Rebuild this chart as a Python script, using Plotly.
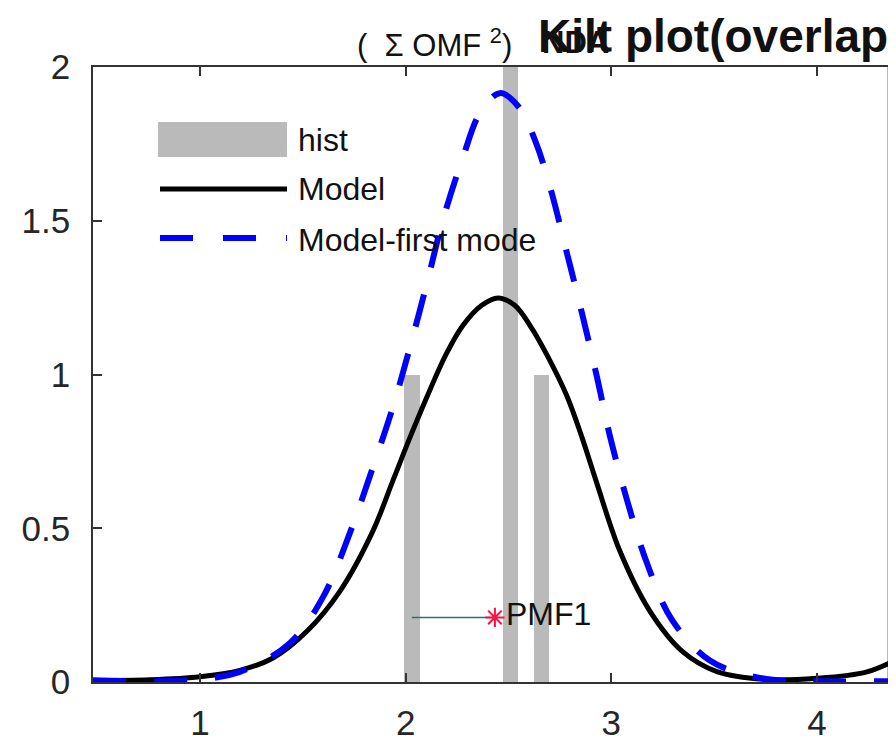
import plotly.graph_objects as go

# ---------------- data ----------------
hist_x = [2.03, 2.51, 2.66, 4.38]
hist_y = [1.0, 2.0, 1.0, 2.0]

model_x = [0.48, 0.757, 1.0, 1.194, 1.355, 1.52, 1.68, 1.84, 1.938, 2.03, 2.118, 2.2,
           2.279, 2.37, 2.449, 2.53, 2.604, 2.69, 2.784, 2.86, 2.93, 3.042, 3.188, 3.348,
           3.513, 3.756, 3.999, 4.243, 4.384]
model_y = [0.004, 0.007, 0.017, 0.038, 0.078, 0.165, 0.295, 0.49, 0.655, 0.81, 0.95, 1.07,
           1.16, 1.225, 1.249, 1.225, 1.16, 1.06, 0.93, 0.79, 0.645, 0.425, 0.23, 0.098,
           0.034, 0.008, 0.012, 0.033, 0.072]

first_x = [0.48, 0.951, 1.194, 1.438, 1.598, 1.729, 1.841, 1.938, 2.021, 2.104, 2.181,
           2.279, 2.361, 2.458, 2.55, 2.63, 2.702, 2.784, 2.857, 2.93, 2.993, 3.076, 3.173,
           3.295, 3.479, 3.722, 3.999, 4.384]
first_y = [0.006, 0.006, 0.033, 0.127, 0.276, 0.485, 0.699, 0.894, 1.089, 1.298, 1.502,
           1.707, 1.85, 1.915, 1.87, 1.76, 1.61, 1.395, 1.2, 0.992, 0.8, 0.592, 0.387,
           0.202, 0.07, 0.013, 0.003, 0.003]

pmf_x = [2.03, 2.434]
pmf_y = [0.21, 0.21]
pmf_label = "PMF1"

x_ticks = [1, 2, 3, 4]
y_ticks = [0, 0.5, 1, 1.5, 2]
y_tick_text = ["0", "0.5", "1", "1.5", "2"]

legend_labels = ["hist", "Model", "Model-first mode"]
title_main = "Kilt plot(overlap"
title_side = "(\u00a0 Σ OMF <sup>2</sup>)"
title_side_bold = "NDA"

# ---------------- geometry helpers ----------------
# the page body adds an 8px offset; the figure is sized so the plot area lands
# where the reference has it on screen (left 93, top 67, bottom 682)
OFF = 8
W, H = 880, 732
L, R, T, B = 85, 0, 59, 58
PW, PH = W - L - R, H - T - B


def px(xs):
    return (xs - OFF - L) / PW


def py(ys):
    return (H - B - (ys - OFF)) / PH


FONT = "Arial, Liberation Sans, Helvetica, sans-serif"
AX = "#333333"

fig = go.Figure()

fig.add_trace(go.Bar(x=hist_x, y=hist_y, width=0.075, marker_color="#bababa",
                     marker_line_width=0, name=legend_labels[0], showlegend=False))

fig.add_trace(go.Scatter(x=model_x, y=model_y, mode="lines", name=legend_labels[1],
                         line=dict(color="black", width=5, shape="spline", smoothing=1.0),
                         showlegend=False))

fig.add_trace(go.Scatter(x=first_x, y=first_y, mode="lines", name=legend_labels[2],
                         line=dict(color="#0000ff", width=6, dash="33px,28px",
                                   shape="spline", smoothing=1.0),
                         showlegend=False))

fig.add_trace(go.Scatter(x=pmf_x, y=pmf_y, mode="lines",
                         line=dict(color="#2f6f6f", width=1.5), showlegend=False))
fig.add_trace(go.Scatter(x=[pmf_x[-1]], y=[pmf_y[-1]], mode="markers+text",
                         marker=dict(symbol="asterisk-open", size=16, color="#ff1040",
                                     line=dict(color="#ff1040", width=2)),
                         text=[pmf_label], textposition="middle right",
                         textfont=dict(family=FONT, size=32, color="#111111"),
                         showlegend=False))

# ---------------- manual legend (MATLAB style) ----------------
shapes = [
    dict(type="rect", xref="paper", yref="paper", x0=px(158), x1=px(287),
         y0=py(157), y1=py(122), fillcolor="#bababa", line=dict(width=0)),
    dict(type="line", xref="paper", yref="paper", x0=px(160), x1=px(287),
         y0=py(189), y1=py(189), line=dict(color="black", width=5)),
    dict(type="line", xref="paper", yref="paper", x0=px(160), x1=px(287),
         y0=py(238), y1=py(238), line=dict(color="#0000ff", width=6, dash="33px,30px")),
]
annotations = []
for lab, yy in zip(legend_labels, [140, 189, 240]):
    annotations.append(dict(text=lab, xref="paper", yref="paper", x=px(296), y=py(yy),
                            xanchor="left", yanchor="middle", showarrow=False,
                            font=dict(family=FONT, size=32, color="#111111")))

annotations.append(dict(text=title_side, xref="paper", yref="paper", x=px(355), y=py(43),
                        xanchor="left", yanchor="middle", showarrow=False,
                        font=dict(family=FONT, size=31, color="#111111")))
annotations.append(dict(text="<b>" + title_side_bold + "</b>", xref="paper", yref="paper",
                        x=px(540), y=py(43), xanchor="left", yanchor="middle",
                        showarrow=False, font=dict(family=FONT, size=31, color="#111111")))
annotations.append(dict(text="<b>" + title_main + "</b>", xref="paper", yref="paper",
                        x=px(536), y=py(36), xanchor="left", yanchor="middle",
                        showarrow=False, font=dict(family=FONT, size=46, color="#111111")))

fig.update_layout(
    width=W, height=H,
    margin=dict(l=L, r=R, t=T, b=B, pad=0, autoexpand=False),
    paper_bgcolor="white", plot_bgcolor="white",
    shapes=shapes, annotations=annotations,
    showlegend=False, bargap=0,
)

fig.update_xaxes(range=[0.48, 4.345], tickvals=x_ticks, ticks="inside", ticklen=9,
                 tickcolor=AX, tickwidth=1.5, showline=True, linecolor=AX, linewidth=1.5,
                 mirror="ticks", showgrid=False, zeroline=False, automargin=False,
                 tickfont=dict(family=FONT, size=35, color="#262626"),
                 ticklabelstandoff=9)
fig.update_yaxes(range=[0, 2], tickvals=y_ticks, ticktext=y_tick_text, ticks="inside",
                 ticklen=9, tickcolor=AX, tickwidth=1.5, showline=True, linecolor=AX,
                 linewidth=1.5, showgrid=False, zeroline=False, automargin=False,
                 tickfont=dict(family=FONT, size=35, color="#262626"),
                 ticklabelstandoff=14)

fig.write_html("out.html")
